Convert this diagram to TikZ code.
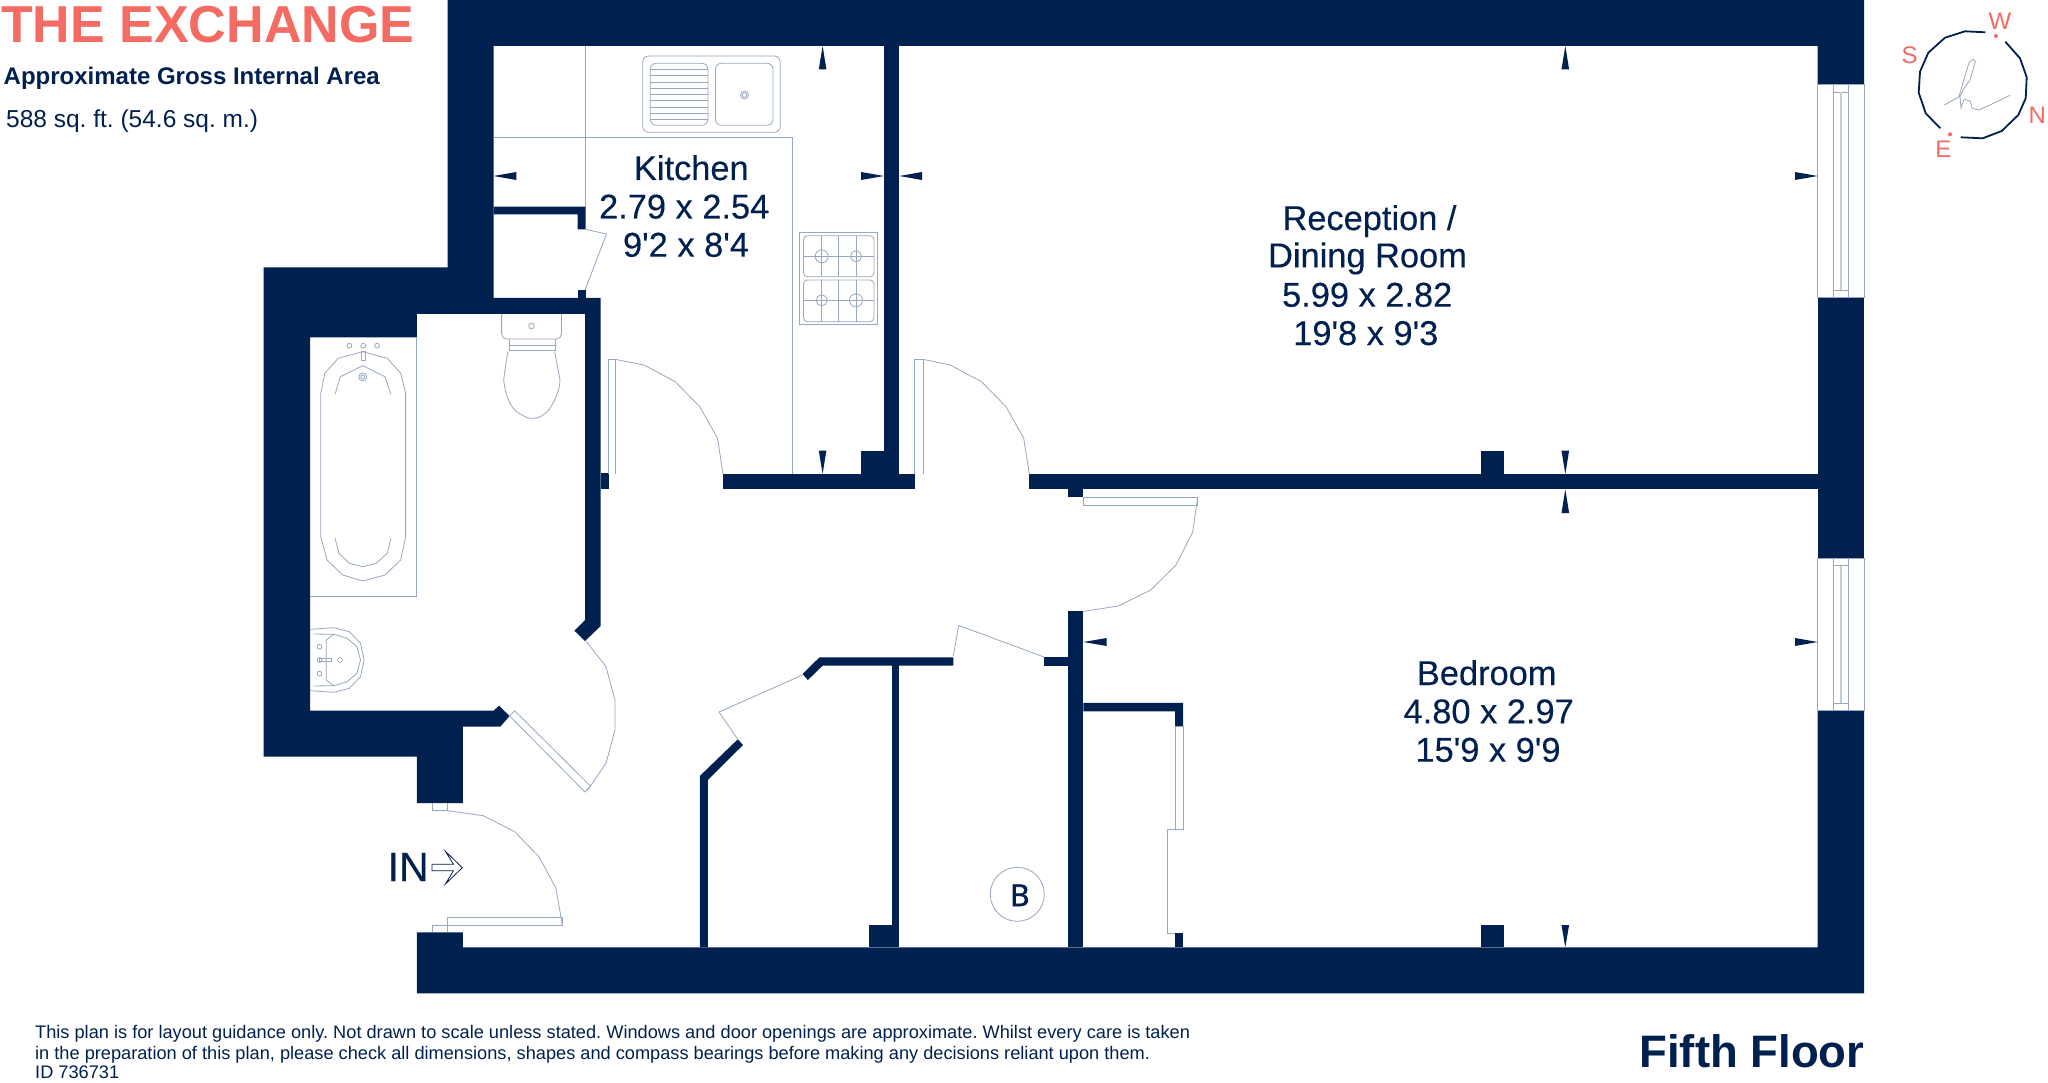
\documentclass[tikz,border=0pt]{standalone}
\usepackage{fontspec}
\newfontfamily\lab{Liberation Sans}
\newfontfamily\labm[FakeBold=0.25]{Liberation Sans}
\newfontfamily\labb[FakeBold=2]{Open Sans}
\definecolor{navy}{HTML}{00214F}
\definecolor{coral}{HTML}{F46B63}
\definecolor{fine}{HTML}{98A7BE}
\definecolor{pale}{HTML}{C3CEDD}
\newcommand{\fsz}[1]{\fontsize{#1}{#1}\selectfont}
\tikzset{
  wall/.style={fill=navy,draw=none},
  fine/.style={draw=fine,line width=0.8pt,fill=none},
  tick/.style={fill=navy,draw=none},
  room/.style={inner sep=0pt,anchor=base,text=navy,font=\labm\fsz{34.4}},
  redlab/.style={inner sep=0pt,anchor=center,text=coral,font=\lab\fsz{24}},
  small/.style={inner sep=0pt,anchor=base west,text=navy,font=\lab\fsz{18.2}},
}
\begin{document}
\frenchspacing
\begin{tikzpicture}[x=1pt,y=-1pt]
\useasboundingbox (0,0) rectangle (2048,1083);
\fill[white] (0,0) rectangle (2048,1083);
% ---------- walls
\path[wall] (447.6,0)--(1864,0)--(1864,84.7)--(1817.7,84.7)--(1817.7,46)--(493.6,46)--(493.6,298)--(600.7,298)--(600.7,626)--(585,641)--(574.4,630.7)--(585,620)--(585,314)--(416.8,314)--(416.8,337.3)--(310,337.3)--(310,710.7)--(493.6,710.7)--(499,705.7)--(509.6,716)--(500.3,726.7)--(462.8,726.7)--(462.8,803)--(416.8,803)--(416.8,756.7)--(263.7,756.7)--(263.7,267.3)--(447.6,267.3)--cycle;
\path[wall] (416.8,932.3)--(462.8,932.3)--(462.8,947.3)--(1817.7,947.3)--(1817.7,710.7)--(1864,710.7)--(1864,993.3)--(416.8,993.3)--cycle;
\path[wall] (1817.7,297.7) rectangle (1864,558.4);
% cupboard wall in kitchen
\path[wall] (493.6,206.7)--(585.5,206.7)--(585.5,229.3)--(577.5,229.3)--(577.5,214.3)--(493.6,214.3)--cycle;
\path[wall] (577.5,290) rectangle (585.5,298);
% kitchen / reception partition
\path[wall] (884.2,46) rectangle (899.4,474);
\path[wall] (861,450.7) rectangle (884.2,474);
\path[wall] (723,473.7) rectangle (914.5,489.3);
\path[wall] (600.7,473.3) rectangle (608.7,489.3);
% reception / bedroom partition
\path[wall] (1029.3,474) rectangle (1817.7,489.3);
\path[wall] (1480.7,450.7) rectangle (1504.3,474);
\path[wall] (1067.7,489.3) rectangle (1083.3,497);
% bedroom / cupboard
\path[wall] (1067.7,611.4) rectangle (1083.3,947.3);
\path[wall] (1044,657) rectangle (1067.7,665.7);
\path[wall] (1083.3,702.9)--(1183,702.9)--(1183,726.8)--(1175,726.8)--(1175,711.4)--(1083.3,711.4)--cycle;
\path[wall] (1175,932.5) rectangle (1183,947.3);
\path[wall] (1480.7,925) rectangle (1504.3,947.3);
% hall cupboards
\path[wall] (699.8,947.3)--(699.8,776)--(737.8,739.3)--(743,745)--(707.9,780)--(707.9,947.3)--cycle;
\path[wall] (802.5,674)--(819.5,657.3)--(953.3,657.3)--(953.3,665.7)--(822.6,665.7)--(807.9,680)--cycle;
\path[wall] (891.7,665) rectangle (899.3,947.3);
\path[wall] (868.6,924.7) rectangle (891.7,947.3);
% ---------- windows
\draw[fine] (1817.7,84.7) rectangle (1864,297.7);
\draw[fine] (1833.3,84.7) rectangle (1848.7,297.7);
\draw[fine] (1833.3,92.3)--(1848.7,92.3) (1833.3,290.3)--(1848.7,290.3);
\draw[pale,line width=1.6pt] (1840.7,92.3)--(1840.7,290.3);
\draw[fine] (1817.7,558.4) rectangle (1864,710.7);
\draw[fine] (1833.3,558.4) rectangle (1848.7,710.7);
\draw[fine] (1833.3,565.6)--(1848.7,565.6) (1833.3,703)--(1848.7,703);
\draw[pale,line width=1.6pt] (1840.7,565.6)--(1840.7,703);
% ---------- doors
\draw[fine] (608.3,473.7)--(608.3,359.3)--(615,359.3)--(615,473.7);
\draw[fine] (615,359.3)--(644,365)--(675.3,381.7)--(699.8,406.7)--(717.5,438.3)--(723,473.7);
\draw[fine] (914.5,473.7)--(914.5,359.3)--(923,359.3)--(923,473.7);
\draw[fine] (923,359.3)--(950.2,365)--(981.5,381.7)--(1006,406.7)--(1023.7,438.3)--(1029.3,473.7);
\draw[fine] (1083.3,497) rectangle (1197.7,505);
\draw[fine] (1197.7,497)--(1192.7,532)--(1176,565)--(1150.7,590)--(1118.3,606)--(1083.3,611.4);
\draw[fine] (514.6,710.7)--(509.6,716)--(585,792)--(590.4,786)--cycle;
\draw[fine] (586,641)--(606,666.7)--(615,700)--(615,730)--(606,763.3)--(587,791);
\draw[fine] (432.4,803)--(432.4,810.7)--(447.6,810.7)--(447.6,803);
\draw[fine] (447.6,810.7)--(483.3,815.7)--(514.6,831.7)--(539,856.7)--(556,888.3)--(562.3,925);
\draw[fine] (447.6,932.3)--(447.6,917)--(562.3,917)--(562.3,925)--(432.4,925)--(432.4,932.3);
\draw[fine] (585.5,229.3)--(606.5,234)--(585,290);
\draw[fine] (802.5,675)--(719,712)--(737.8,739.3);
\draw[fine] (953.3,656)--(958.7,625.4)--(1044,657);
\draw[fine] (1175,726.8)--(1183,726.8)--(1183,829.3)--(1175,829.3)--(1175,726.8);
\draw[fine] (1175,829.3)--(1167.3,829.3)--(1167.3,932.9)--(1175,932.9);
% ---------- kitchen fittings
\draw[fine] (493.6,137.7)--(792.2,137.7)--(792.2,473.7);
\draw[fine] (585.5,46)--(585.5,206.7);
\draw[fine,rounded corners=6pt] (642.7,56) rectangle (780.2,132.3);
\draw[fine,rounded corners=6pt] (650.3,63.3) rectangle (707.9,125.3);
\draw[fine,rounded corners=6pt] (715.4,63.3) rectangle (773,125.3);
\foreach \yy in {69.5,75.8,82,88.3,94.5,100.8,107,113.3,119.5}{\draw[fine] (650.3,\yy)--(707.9,\yy);}
\draw[fine] (744.5,95) circle (4) (744.5,95) circle (2.2);
\draw[fine] (799.4,232.3) rectangle (877,324.3);
\draw[fine,rounded corners=4pt] (803.4,235.7) rectangle (874,276.7);
\draw[fine,rounded corners=4pt] (803.4,280) rectangle (874,321.7);
\draw[fine] (803.4,256.3)--(874,256.3) (803.4,300.3)--(874,300.3);
\draw[fine] (821.7,235.7)--(821.7,276.7) (838.7,235.7)--(838.7,276.7) (856,235.7)--(856,276.7);
\draw[fine] (821.7,280)--(821.7,321.7) (838.7,280)--(838.7,321.7) (856,280)--(856,321.7);
\draw[fine] (821.7,256.3) circle (6.5) (856,256.3) circle (5.5) (821.7,300.3) circle (5.5) (856,300.3) circle (6.5);
% ---------- bathroom fittings
\draw[fine] (416.8,337.3)--(416.8,596.3)--(310,596.3);
\draw[fine] (320.8,393.3)--(324.8,373.3)--(338.2,358.3)--(362.8,351.7)--(387.3,358.3)--(400.7,373.3)--(405.6,393.3)--(405.6,536.7)--(400.7,560)--(385,575)--(362.8,581)--(342.7,575)--(327,560)--(320.8,536.7)--cycle;
\draw[fine] (335,394.3)--(340.4,376.7)--(362.8,365.7)--(385,376.7)--(390.9,394.3);
\draw[fine] (390.9,538.3)--(387.3,553.3)--(376.2,563.3)--(362.8,566.7)--(349.4,563.3)--(339,553.3)--(335,538.3);
\draw[fine] (349.4,345.7) circle (2.4) (363.2,345.7) circle (2.4) (377,345.7) circle (2.4);
\draw[fine] (361.4,351.7) rectangle (365,360);
\draw[fine] (362.8,377) circle (4) (362.8,377) circle (2);
\draw[fine,rounded corners=5pt] (501.6,314)--(501.6,339)--(561.4,339)--(561.4,314);
\draw[fine] (531.5,326) circle (2.8);
\draw[fine] (509.6,339)--(509.6,350)--(555,350)--(555,339) (509.6,345)--(555,345);
\draw[fine] plot[smooth,tension=0.7] coordinates {(507.9,351.7) (505,370) (504.3,385) (511,405) (522,415) (532.4,418.3) (543,415) (552,405) (559.6,385) (558,370) (554.7,351.7)};
\draw[fine] (310,629.3)--(333.8,627.7)--(349.4,631.7)--(360.5,643.3)--(364.1,660)--(360.5,676.7)--(349.4,688.3)--(333.8,692.3)--(310,690.7);
\draw[fine] (313.7,634)--(333.8,634.3)--(347.1,638.3)--(357,646.7)--(360.5,660)--(357,673.3)--(347.1,681.7)--(333.8,685.7)--(313.7,686);
\draw[fine] (333.8,634.3)--(326.2,640)--(326.2,680)--(333.8,685.7);
\draw[fine] (319.5,646.7) circle (2.4) (319.5,660) circle (2.4) (319.5,673.7) circle (2.4) (340,660) circle (2.4);
\draw[fine] (319.5,658.7) rectangle (331.5,661.3);
% ---------- dimension ticks
\path[tick] (493.6,176)--(516.3,172)--(516.3,180)--cycle;
\path[tick] (884,176)--(861,172)--(861,180)--cycle;
\path[tick] (899.4,176)--(922,172)--(922,180)--cycle;
\path[tick] (1817.7,176)--(1795,172)--(1795,180)--cycle;
\path[tick] (822.6,46)--(818.8,69.3)--(826.4,69.3)--cycle;
\path[tick] (822.6,473.7)--(818.8,450.7)--(826.4,450.7)--cycle;
\path[tick] (1565.3,46)--(1561.5,69.3)--(1569.1,69.3)--cycle;
\path[tick] (1565.3,474)--(1561.5,450.7)--(1569.1,450.7)--cycle;
\path[tick] (1565.3,489.3)--(1561.5,513)--(1569.1,513)--cycle;
\path[tick] (1565.3,947.3)--(1561.5,925)--(1569.1,925)--cycle;
\path[tick] (1083.3,642)--(1106.7,638)--(1106.7,646)--cycle;
\path[tick] (1817.7,642)--(1795,638)--(1795,646)--cycle;
% ---------- room labels
\node[room] (k1) at (691.3,180) {Kitchen};
\node[room] (k2) at (684.2,218.5) {2.79 x 2.54};
\node[room] (k3) at (686,256.7) {9'2 x 8'4};
\node[room] (r1) at (1369.5,230) {Reception /};
\node[room] (r2) at (1367.5,267.3) {Dining Room};
\node[room] (r3) at (1367.2,306.7) {5.99 x 2.82};
\node[room] (r4) at (1365.8,345) {19'8 x 9'3};
\node[room] (b1) at (1486.7,685) {Bedroom};
\node[room] (b2) at (1488.7,723.3) {4.80 x 2.97};
\node[room] (b3) at (1488,761.7) {15'9 x 9'9};
% entrance
\node[room,font=\labm\fsz{41},anchor=base west] (inlab) at (387.5,881) {IN};
\draw[navy,line width=0.8pt,fill=white] (432,864.3)--(453.5,864.3)--(445.4,851.3)--(462.3,867.7)--(445.4,884)--(453.5,870.7)--(432,870.7)--cycle;
% boiler
\draw[fine] (1017.3,894.3) circle (27);
\node[inner sep=0pt,anchor=base,text=navy,font=\labb\fsz{30}] (boiler) at (1019.8,906) {B};
% ---------- title block
\node[inner sep=0pt,anchor=base west,text=coral,font=\lab\bfseries\fsz{52}] (title) at (1,42.3) {THE EXCHANGE};
\node[inner sep=0pt,anchor=base west,text=navy,font=\lab\bfseries\fsz{24}] (gia) at (3.5,85) {Approximate Gross Internal Area};
\node[inner sep=0pt,anchor=base west,text=navy,font=\lab\fsz{24.5}] (area) at (6,127.3) {588 sq. ft. (54.6 sq. m.)};
\node[inner sep=0pt,anchor=base east,text=navy,font=\lab\bfseries\fsz{45.5}] (floor) at (1864.5,1067.3) {Fifth Floor};
% ---------- disclaimer
\node[small] (d1) at (35,1038) {This plan is for layout guidance only. Not drawn to scale unless stated. Windows and door openings are approximate. Whilst every care is taken};
\node[small] (d2) at (35,1059.3) {in the preparation of this plan, please check all dimensions, shapes and compass bearings before making any decisions reliant upon them.};
\node[small] (d3) at (35,1078) {ID 736731};
% ---------- compass
\draw[navy,line width=1.8pt] (1985.3,32.3)--(1965,31.3)--(1945,37.7)--(1928.3,52.7)--(1920,71.7)--(1918.7,92.7)--(1925.7,113.3)--(1940.3,128.3);
\draw[navy,line width=1.8pt] (2005.3,41.7)--(2020,58.3)--(2026.7,77.3)--(2025.7,98.3)--(2018.3,115)--(2001.7,131)--(1982.7,138.3)--(1960.7,137.3);
\fill[coral] (1996,36) circle (2) (1950,134.3) circle (2);
\draw[fine] (1944.3,105)--(1959,96.7)--(1963.3,81.7)--(1969.3,61.7)--(1973.3,59.3)--(1975.3,61.7)--(1970,80)--(1964,88.3)--(1960,96.7)--(1961,107.7)--(1964,99.3)--(1970,101)--(1972.3,108.3)--(1978.3,110)--(1990,105)--(2010,95.3);
\node[redlab] (cw) at (2000,21.7) {W};
\node[redlab] (cs) at (1909.7,55) {S};
\node[redlab] (cn) at (2037.3,115.3) {N};
\node[redlab] (ce) at (1943.3,149) {E};
\end{tikzpicture}
\end{document}
